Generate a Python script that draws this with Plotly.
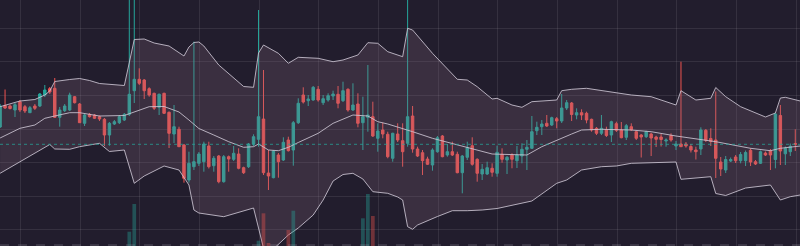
import plotly.graph_objects as go

# ---------------- data ----------------
bar_index = list(range(161))

open_ = [119, 140.5, 140, 136, 144.3, 139.3, 133.3, 140, 140, 151,
         157.3, 157.7, 128.7, 135.3, 136, 149.3, 142, 122.7, 131.7, 131,
         129.3, 126.7, 111, 122, 123.3, 126, 131.7, 155.3, 166.7, 166,
         157.3, 152.7, 138.7, 152.7, 133.7, 112, 116.7, 101, 66, 79.3,
         82.7, 84.3, 100, 80.3, 90, 64.3, 89.3, 86.7, 92, 78.3,
         79.3, 102, 106.7, 127, 73, 68.3, 91, 86, 106, 96,
         123.3, 151, 145.3, 146, 156.7, 143.3, 146, 150, 151.7, 145.3,
         156.7, 136, 142, 123.3, 128.7, 129.3, 107.7, 116, 111.7, 87.7,
         112, 105.3, 102.7, 130, 97, 93.3, 87, 81, 94.3, 110,
         91, 94.3, 91.7, 73.3, 88.7, 100.3, 86.7, 72, 72, 77.7,
         72.7, 91.7, 86, 91, 85.3, 90, 96.7, 97.7, 115.3, 119.3,
         122.7, 121, 127.3, 125, 138, 143, 131, 133.3, 132.7, 126.7,
         117.7, 112.7, 116.3, 111, 122.3, 116, 108.7, 119.3, 114.3, 111,
         109.3, 112, 109, 109, 105, 110.5, 100, 102, 102, 99.5,
         96, 97, 115.7, 107.5, 106, 84, 76, 85, 89, 85.3,
         85.3, 95.7, 84.3, 82.7, 93, 95, 86.5, 130.5, 92.2, 94.3,
         102.5]

high = [142, 156.5, 141.5, 143, 146, 141, 140, 142, 153, 161,
        159, 168, 139, 142, 153.3, 150, 143, 132, 133, 132,
        130.5, 128, 124, 126, 131, 133, 266, 256, 177.7, 167,
        158.7, 153.3, 152.5, 153.3, 134.5, 141, 119.3, 102, 94.3, 204.3,
        94, 104.3, 104.3, 90, 91, 91, 90.5, 100, 97.7, 79.3,
        103, 111.7, 236, 176, 96, 96, 93, 108.7, 109.3, 125,
        147.7, 158.7, 151, 160, 160, 151, 152.7, 155.3, 160, 164.3,
        157.7, 162.7, 152.7, 149.3, 181, 144.3, 122.7, 123.3, 114.3, 113.3,
        122.7, 122.7, 256, 140, 99.3, 96, 89.3, 97.7, 110, 111,
        102, 104.3, 94.3, 91, 104.3, 108.7, 87.7, 82, 84.3, 82.7,
        100.3, 97.7, 90, 92.7, 100, 102.7, 106, 130, 124.3, 126,
        131, 129.3, 129, 152, 146, 144, 137.7, 136.7, 134.3, 127.3,
        119, 131, 119.3, 125.3, 124.3, 124, 122, 122.7, 115.3, 112,
        115.3, 113.3, 110.3, 112, 107.7, 112.7, 105, 184.3, 104, 102,
        99.3, 118.7, 117, 117.7, 154.5, 89, 90, 88.5, 91, 94,
        95.5, 97.7, 86, 95.5, 94.5, 97, 133, 141, 99.5, 102.5,
        116.7]

low = [118, 137, 136.5, 129, 134, 133, 133, 136, 139, 149,
       152, 128, 119.3, 134, 135, 142.5, 123, 120, 128.5, 127,
       125, 100, 100.3, 121, 122, 125, 130, 143, 161, 147,
       149.3, 136, 131, 132, 98, 103, 99, 63.3, 63.3, 76,
       80, 74.3, 77.5, 74.3, 62.7, 63.3, 74.3, 85, 76.7, 72,
       78, 100, 99.3, 71, 56, 67.7, 68.3, 85, 94.5, 80.3,
       122, 142.5, 140, 145.3, 144.3, 141, 144.3, 146, 137.7, 144,
       134.3, 135, 118.7, 96, 114.3, 109, 94.3, 107.7, 87.7, 84.3,
       104, 79.3, 99.3, 93.3, 89, 71, 81, 75.3, 93.3, 88.7,
       89.3, 90, 72.7, 52.7, 86, 80.3, 64.3, 66, 71, 69.3,
       69.3, 83.3, 72, 77.7, 78, 82.7, 76, 97, 111, 111,
       119, 120, 117.7, 123, 136, 125, 126.7, 126, 122.7, 114.3,
       111, 111, 109, 104, 114, 107.7, 106, 115, 106, 88.5,
       108, 90, 99, 99.5, 99.3, 104.3, 96, 99, 98.3, 93.5,
       86.5, 91, 104, 100, 68, 70, 73, 84, 83, 82.7,
       80, 80, 81, 82, 90, 76, 77.7, 81, 81, 90,
       95]

close = [140, 138, 137.5, 141.3, 136, 135, 138.3, 137.7, 152, 156,
         154, 128.7, 136, 140, 151, 143.3, 123.3, 131, 129.3, 127.7,
         127, 111, 122.7, 124.3, 129.3, 131.7, 151.7, 166.7, 162.7, 155.3,
         151, 137.7, 151.7, 132.7, 112.7, 119.3, 99.3, 67.7, 82.7, 84.3,
         92, 102, 79.3, 87.7, 64.3, 89.3, 87, 92.7, 77.7, 73.3,
         102, 109.3, 129.3, 73.3, 70, 95, 84.3, 103.7, 95.3, 123.3,
         142.7, 144, 147, 158.7, 146, 147.3, 150.3, 152, 142.7, 155.3,
         136, 141, 122.7, 129.3, 131, 110, 115, 112, 89.3, 112.7,
         106, 94.3, 129.3, 97, 90, 85.3, 81.7, 96, 108.3, 89.3,
         94.3, 91, 73.3, 90, 98.3, 81.7, 72.7, 76.7, 78.3, 73.7,
         93.7, 86.7, 88.7, 86.7, 91, 96.7, 98.7, 114.3, 118.7, 122,
         120, 128.3, 125, 138, 143.3, 131.5, 133.3, 131, 126, 116,
         112.7, 117.7, 110.5, 124.3, 115.7, 108.3, 120.3, 116.3, 107.7, 109,
         114.3, 108, 106.7, 106.5, 106, 106, 102, 99.3, 100, 96,
         94.3, 116, 105.7, 104.5, 87.7, 77, 86.5, 86.5, 85.3, 91.5,
         93.5, 84, 82, 94.3, 91, 91, 132, 95, 97.7, 99.7,
         101.7]

# Bollinger bands (knots)
upper_index = [0, 4, 7, 9, 10, 11, 14, 16, 18, 20, 25, 26, 27, 29, 31, 34, 37, 38, 39, 40,
               41, 44, 49, 51, 52, 53, 56, 58, 60, 64, 67, 69, 72, 74, 76, 78, 80, 81, 82, 83,
               87, 89, 92, 94, 96, 99, 100, 103, 105, 107, 112, 113, 115, 118, 121, 123, 127, 131, 136, 137,
               140, 143, 144, 146, 149, 154, 156, 157, 158, 161]
upper_value = [139.3, 145, 146.5, 151, 155, 164.5, 166.5, 167.5, 165.5, 162.5, 160.5, 184, 206.5, 207, 203, 200, 190, 199, 203.5, 204,
               200, 181, 159.5, 158.7, 193, 201, 192.7, 182.7, 188.7, 187.7, 184.3, 186, 191, 203.3, 202.7, 194.3, 191, 189.3, 217.7, 216,
               192.7, 182.7, 166.7, 166, 159.3, 147, 147.7, 141, 138.7, 144.3, 146, 155.3, 156.7, 157.7, 155.3, 154.3, 151, 149.3, 141, 155.3,
               146, 147.7, 158.5, 149.3, 139.3, 129, 133, 148, 148.7, 145]

middle_index = [0, 4, 7, 9, 11, 14, 16, 20, 25, 27, 30, 33, 36, 38, 40, 43, 46, 49, 51, 52,
                54, 56, 58, 60, 64, 67, 70, 71, 74, 76, 78, 80, 83, 87, 92, 96, 99, 101, 106, 109,
                112, 115, 117, 121, 127, 131, 136, 141, 144, 151, 155, 157, 161]
middle_value = [108, 117.7, 121, 127.7, 130, 133.3, 133.3, 130, 130.5, 134, 139.3, 139.5, 134, 126, 117.5, 111, 104.3, 98.7, 99.3, 102,
                96, 95.3, 98.7, 103.5, 112.7, 122.7, 129.3, 131, 130, 124.3, 122, 119, 114.3, 107.7, 101, 95.3, 92, 91.7, 91, 99.3,
                106, 112, 116, 116.7, 116, 114.3, 110, 106.3, 104.3, 97.7, 95.3, 97.7, 100]

lower_index = [0, 4, 10, 11, 14, 16, 20, 22, 25, 27, 29, 33, 36, 38, 39, 40, 45, 51, 52, 53,
               55, 56, 58, 60, 63, 65, 67, 69, 71, 73, 75, 78, 80, 81, 82, 83, 84, 88, 91, 94,
               97, 100, 105, 107, 112, 114, 117, 119, 121, 124, 127, 136, 137, 143, 144, 146, 150, 155, 157, 159,
               161]
lower_value = [72.7, 84.3, 101.5, 97, 96.7, 99.3, 102.7, 94.5, 96, 62.7, 70, 80, 76, 61, 36, 33, 29.3, 38, 18, -2,
               -3, 2, 11, 18, 31, 46, 65, 71.5, 72.7, 67, 54.3, 52.7, 49, 46, 19.3, 16.7, 21, 29.5, 35.3, 35.3,
               36, 37.5, 42.7, 45, 62.7, 66, 76, 77.7, 79.3, 80, 82.7, 84, 66.7, 69.3, 52.5, 50.5, 58, 61, 46, 49.3,
               51]

# Volume (only bars tall enough to be seen in the reference)
volume_index = [26, 27, 52, 53, 54, 58, 59, 73, 74, 75]
volume_value = [143, 420, 53, 327, 30, 160, 353, 277, 520, 300]

# ---------------- styling ----------------
BG = "#221d2d"
GRID = "rgba(255,255,255,0.085)"
UP = "#26a69a"
DOWN = "#ef5350"
BAND_LINE = "rgba(205,198,212,0.85)"
BAND_FILL = "rgba(140,110,130,0.23)"

fig = go.Figure()

fig.add_trace(go.Scatter(x=upper_index, y=upper_value, mode="lines",
                         line=dict(color=BAND_LINE, width=1), hoverinfo="skip"))
fig.add_trace(go.Scatter(x=lower_index, y=lower_value, mode="lines", fill="tonexty",
                         fillcolor=BAND_FILL, line=dict(color=BAND_LINE, width=1), hoverinfo="skip"))
fig.add_trace(go.Scatter(x=middle_index, y=middle_value, mode="lines",
                         line=dict(color=BAND_LINE, width=1), hoverinfo="skip"))

vol_colors = [("rgba(38,166,154,0.38)" if close[i] >= open_[i] else "rgba(239,83,80,0.38)")
              for i in volume_index]
fig.add_trace(go.Bar(x=volume_index, y=volume_value, yaxis="y2", width=0.75,
                     marker=dict(color=vol_colors, line=dict(width=0)), hoverinfo="skip"))

fig.add_trace(go.Candlestick(
    x=bar_index, open=open_, high=high, low=low, close=close,
    increasing=dict(line=dict(color=UP, width=1), fillcolor=UP),
    decreasing=dict(line=dict(color=DOWN, width=1), fillcolor=DOWN),
    whiskerwidth=0,
))

fig.add_shape(type="line", xref="paper", x0=0, x1=1, yref="y", y0=close[-1], y1=close[-1],
              line=dict(color="rgba(38,166,154,0.75)", width=1, dash="dot"))
fig.add_shape(type="line", xref="paper", x0=0, x1=1, yref="paper", y0=0.004, y1=0.004,
              line=dict(color="rgba(170,165,180,0.4)", width=1, dash="dash"))

fig.update_layout(
    width=800, height=246,
    margin=dict(l=0, r=0, t=0, b=0),
    paper_bgcolor=BG, plot_bgcolor=BG,
    showlegend=False,
    boxgap=0.3,
    xaxis=dict(range=[-0.016, 160.95], showgrid=True, gridcolor=GRID, gridwidth=1,
               tick0=4.15, dtick=12, showticklabels=False, ticks="", zeroline=False,
               showline=False, rangeslider=dict(visible=False), fixedrange=True),
    yaxis=dict(range=[0, 246], showgrid=True, gridcolor=GRID, gridwidth=1,
               tick0=16.1, dtick=33.6, showticklabels=False, ticks="", zeroline=False,
               showline=False, fixedrange=True),
    yaxis2=dict(range=[0, 2460], overlaying="y", visible=False, fixedrange=True),
)

fig.write_html("out.html")
